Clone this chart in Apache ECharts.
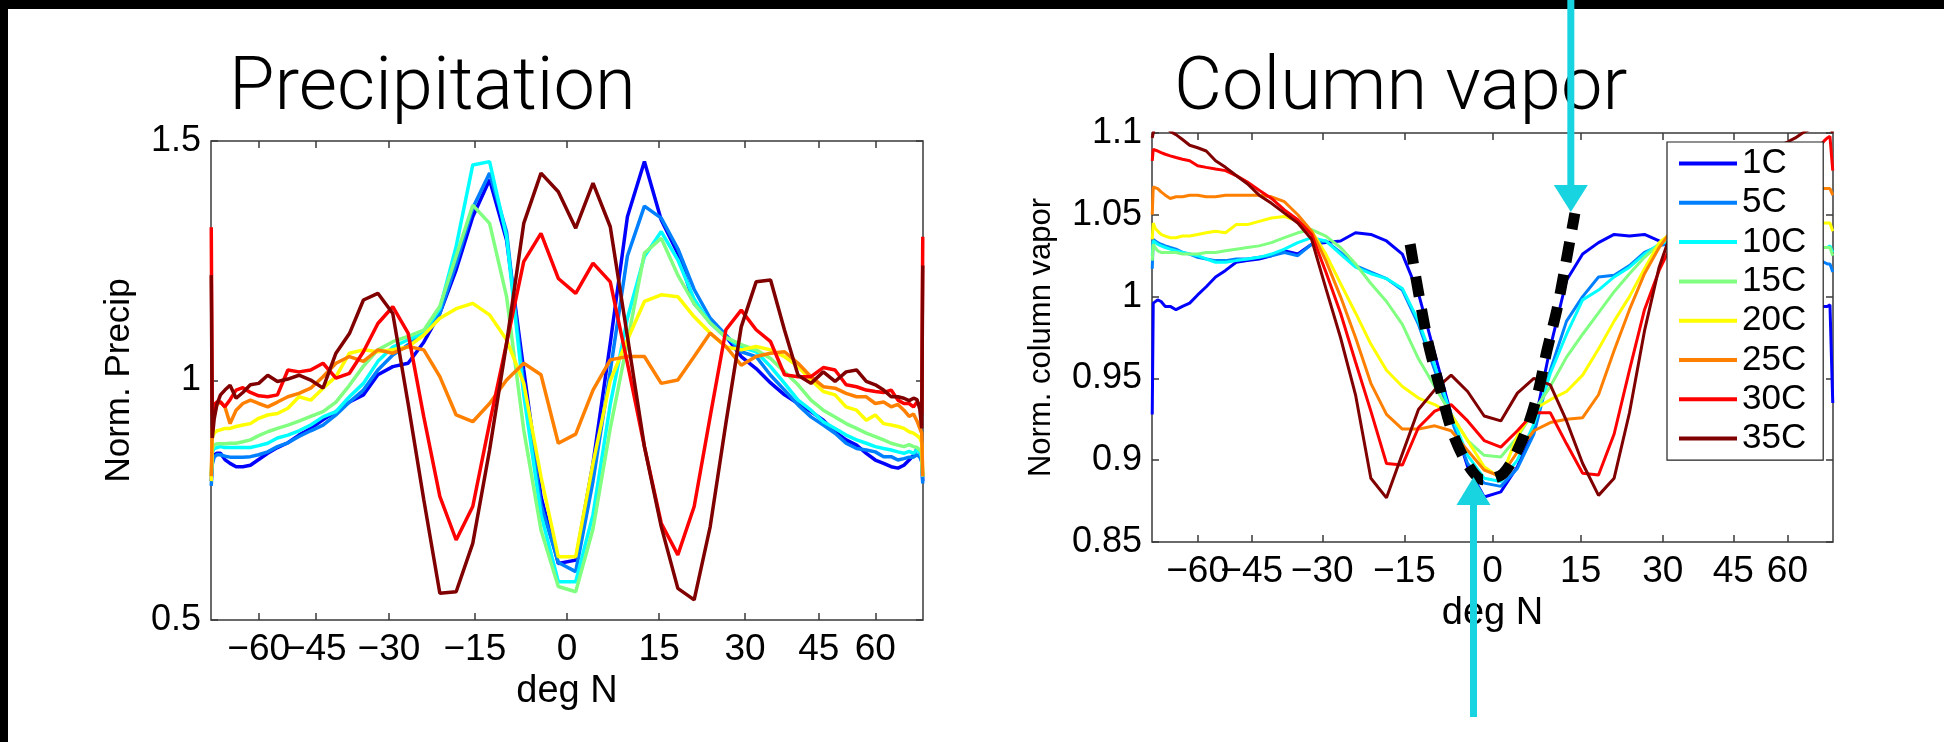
<!DOCTYPE html>
<html><head><meta charset="utf-8">
<script src="https://cdn.jsdelivr.net/npm/echarts@6/dist/echarts.min.js"></script>
<style>html,body{margin:0;padding:0;background:#fff;}#c{width:1944px;height:742px;}</style>
</head><body><div id="c"></div>
<script>
// ---- data ----
const seriesNames = ['1C','5C','10C','15C','20C','25C','30C','35C'];
const xTickDegrees = [-60,-45,-30,-15,0,15,30,45,60];
const latitudes = [-87.86,-85.10,-82.33,-79.53,-76.74,-73.95,-71.16,-68.37,-65.58,-62.79,-60.00,-57.21,-54.42,-51.63,-48.84,-46.05,-43.26,-40.47,-37.67,-34.88,-32.09,-29.30,-26.51,-23.72,-20.93,-18.14,-15.35,-12.56,-9.77,-6.98,-4.19,-1.40,
  1.40,4.19,6.98,9.77,12.56,15.35,18.14,20.93,23.72,26.51,29.30,32.09,34.88,37.67,40.47,43.26,46.05,48.84,51.63,54.42,57.21,60.00,62.79,65.58,68.37,71.16,73.95,76.74,79.53,82.33,85.10,87.86];

const precip1C = [0.79,0.83,0.845,0.848,0.848,0.835,0.827,0.82,0.82,0.823,0.835,0.848,0.86,0.87,0.886,0.9,0.918,0.935,0.955,0.97,1.012,1.029,1.036,1.08,1.14,1.231,1.342,1.419,1.293,1.022,0.758,0.618,
  0.625,0.827,1.078,1.342,1.457,1.335,1.265,1.161,1.123,1.092,1.05,1.025,0.995,0.97,0.952,0.935,0.917,0.893,0.876,0.865,0.848,0.834,0.827,0.82,0.817,0.823,0.834,0.844,0.858,0.85,0.84,0.79];
const precip5C = [0.78,0.825,0.84,0.845,0.845,0.842,0.84,0.84,0.84,0.841,0.845,0.851,0.862,0.87,0.883,0.895,0.907,0.928,0.955,0.98,1.022,1.053,1.075,1.1,1.14,1.245,1.36,1.433,1.31,0.99,0.74,0.62,
  0.601,0.79,1.02,1.26,1.364,1.339,1.275,1.19,1.13,1.095,1.06,1.05,1.011,0.98,0.949,0.924,0.907,0.89,0.869,0.858,0.855,0.851,0.841,0.841,0.834,0.837,0.84,0.84,0.845,0.84,0.83,0.785];
const precip10C = [0.8,0.85,0.858,0.86,0.862,0.86,0.86,0.86,0.86,0.86,0.864,0.869,0.88,0.886,0.895,0.907,0.924,0.935,0.966,0.994,1.04,1.07,1.085,1.1,1.15,1.28,1.45,1.457,1.3,0.97,0.72,0.58,
  0.58,0.72,0.95,1.13,1.259,1.311,1.252,1.17,1.12,1.09,1.07,1.06,1.029,0.994,0.959,0.938,0.914,0.9,0.886,0.876,0.869,0.862,0.858,0.855,0.851,0.848,0.852,0.848,0.855,0.85,0.84,0.8];
const precip15C = [0.8,0.855,0.865,0.868,0.868,0.868,0.869,0.869,0.872,0.876,0.885,0.893,0.9,0.907,0.915,0.925,0.935,0.955,0.99,1.03,1.064,1.081,1.092,1.105,1.155,1.26,1.366,1.328,1.175,0.897,0.688,0.57,
  0.559,0.69,0.9,1.08,1.266,1.297,1.22,1.16,1.12,1.09,1.075,1.064,1.046,1.018,0.991,0.959,0.938,0.924,0.91,0.9,0.89,0.883,0.876,0.869,0.865,0.862,0.866,0.862,0.86,0.855,0.85,0.8];
const precip20C = [0.79,0.88,0.89,0.895,0.897,0.9,0.9,0.904,0.907,0.91,0.921,0.928,0.931,0.942,0.966,0.959,0.984,1.008,1.057,1.064,1.06,1.064,1.07,1.095,1.13,1.15,1.161,1.137,1.085,0.994,0.799,0.632,
  0.632,0.827,1.0,1.085,1.165,1.179,1.175,1.133,1.099,1.07,1.064,1.071,1.064,1.05,1.029,1.001,0.977,0.97,0.945,0.938,0.917,0.928,0.91,0.907,0.904,0.9,0.893,0.89,0.885,0.88,0.87,0.8];
const precip25C = [0.8,0.9,0.93,0.95,0.955,0.945,0.91,0.938,0.952,0.959,0.952,0.945,0.955,0.966,0.973,0.984,1.008,1.036,1.05,1.04,1.064,1.057,1.071,1.064,1.008,0.928,0.914,0.952,1.001,1.036,1.012,0.869,
  0.888,0.98,1.043,1.05,1.05,0.994,1.001,1.05,1.099,1.071,1.032,1.05,1.057,1.06,1.036,1.008,0.987,0.984,0.973,0.966,0.966,0.952,0.955,0.945,0.95,0.938,0.925,0.93,0.915,0.9,0.89,0.8];
const precip30C = [1.32,0.93,0.95,0.955,0.955,0.945,0.96,0.98,0.985,0.975,0.968,0.966,0.97,1.022,1.018,1.022,1.036,1.005,1.015,1.06,1.119,1.154,1.099,0.924,0.758,0.667,0.737,0.911,1.078,1.248,1.307,1.213,
  1.182,1.245,1.206,1.036,0.862,0.702,0.636,0.737,0.925,1.106,1.147,1.106,1.081,1.012,1.008,1.008,1.027,1.022,0.991,0.987,0.98,0.977,0.975,0.98,0.959,0.952,0.952,0.945,0.955,0.95,0.93,1.3];
const precip35C = [1.22,0.88,0.92,0.95,0.97,0.98,0.99,0.963,0.975,0.991,0.994,1.011,0.998,1.003,1.011,1.001,0.984,1.057,1.098,1.168,1.182,1.14,0.952,0.751,0.556,0.559,0.66,0.855,1.078,1.328,1.433,1.394,
  1.318,1.412,1.321,1.092,0.862,0.695,0.566,0.542,0.695,0.911,1.112,1.206,1.21,1.105,1.011,0.994,1.018,0.998,1.018,1.022,0.998,0.991,0.98,0.966,0.966,0.963,0.958,0.963,0.96,0.94,0.9,1.24];

const vapor1C = [0.928,0.996,0.997,0.998,0.997,0.994,0.994,0.992,0.994,0.996,1.001,1.006,1.012,1.016,1.021,1.022,1.023,1.025,1.028,1.026,1.032,1.033,1.034,1.039,1.038,1.034,1.026,1.002,0.965,0.928,0.896,0.8775,
  0.8806,0.896,0.92,0.969,1.01,1.026,1.033,1.038,1.037,1.038,1.034,1.03,1.026,1.022,1.018,1.014,1.01,1.006,1.002,0.999,0.997,0.996,0.995,0.994,0.994,0.993,0.993,0.994,0.994,0.995,0.994,0.935];
const vapor5C = [1.017,1.035,1.034,1.033,1.032,1.031,1.03,1.029,1.027,1.026,1.024,1.023,1.022,1.022,1.023,1.023,1.024,1.025,1.027,1.025,1.032,1.034,1.027,1.019,1.015,1.011,1.004,0.983,0.955,0.925,0.898,0.886,
  0.884,0.895,0.916,0.955,0.985,1.0,1.012,1.013,1.019,1.027,1.031,1.033,1.033,1.032,1.031,1.03,1.029,1.028,1.027,1.026,1.025,1.024,1.024,1.023,1.023,1.022,1.022,1.021,1.02,1.02,1.02,1.015];
const vapor10C = [1.025,1.034,1.033,1.032,1.031,1.03,1.029,1.028,1.027,1.026,1.025,1.023,1.021,1.021,1.022,1.023,1.024,1.026,1.029,1.033,1.036,1.034,1.026,1.018,1.014,1.011,1.005,0.985,0.958,0.928,0.903,0.889,
  0.887,0.9,0.922,0.953,0.977,0.998,1.004,1.012,1.018,1.026,1.032,1.035,1.036,1.036,1.035,1.035,1.034,1.034,1.033,1.033,1.032,1.032,1.032,1.031,1.031,1.031,1.031,1.03,1.03,1.031,1.032,1.027];
const vapor15C = [1.022,1.032,1.03,1.028,1.027,1.027,1.027,1.027,1.026,1.026,1.026,1.027,1.027,1.028,1.029,1.03,1.031,1.033,1.036,1.039,1.041,1.037,1.03,1.02,1.008,0.997,0.983,0.962,0.945,0.928,0.912,0.903,
  0.902,0.914,0.93,0.945,0.963,0.977,0.99,1.003,1.014,1.024,1.032,1.037,1.039,1.038,1.037,1.036,1.035,1.034,1.033,1.033,1.032,1.032,1.031,1.031,1.031,1.03,1.03,1.03,1.03,1.03,1.03,1.025];
const vapor20C = [1.035,1.045,1.042,1.04,1.038,1.037,1.036,1.036,1.037,1.037,1.038,1.039,1.04,1.039,1.044,1.044,1.046,1.048,1.049,1.046,1.04,1.026,1.008,0.99,0.971,0.955,0.945,0.938,0.934,0.928,0.912,0.896,
  0.889,0.915,0.931,0.937,0.942,0.952,0.968,0.985,1.0,1.017,1.033,1.04,1.044,1.046,1.047,1.047,1.047,1.046,1.046,1.045,1.045,1.045,1.045,1.045,1.045,1.045,1.045,1.045,1.045,1.045,1.045,1.04];
const vapor25C = [1.05,1.067,1.068,1.066,1.064,1.062,1.06,1.061,1.061,1.062,1.062,1.061,1.061,1.062,1.062,1.062,1.062,1.061,1.058,1.05,1.04,1.022,1.0,0.975,0.947,0.928,0.919,0.919,0.921,0.918,0.906,0.894,
  0.89,0.905,0.918,0.923,0.925,0.926,0.94,0.967,0.992,1.014,1.03,1.042,1.05,1.055,1.058,1.06,1.061,1.062,1.062,1.062,1.063,1.063,1.064,1.064,1.065,1.065,1.066,1.066,1.066,1.066,1.066,1.062];
const vapor30C = [1.083,1.09,1.09,1.089,1.088,1.087,1.086,1.085,1.084,1.083,1.08,1.079,1.078,1.077,1.074,1.07,1.065,1.06,1.053,1.047,1.038,1.015,0.99,0.96,0.93,0.898,0.897,0.92,0.93,0.934,0.924,0.912,
  0.908,0.918,0.929,0.929,0.91,0.892,0.891,0.916,0.955,0.992,1.016,1.034,1.045,1.052,1.058,1.063,1.067,1.07,1.073,1.075,1.078,1.08,1.083,1.085,1.087,1.089,1.092,1.095,1.097,1.098,1.098,1.077];
const vapor35C = [1.097,1.1,1.105,1.108,1.108,1.105,1.101,1.099,1.096,1.0925,1.091,1.089,1.083,1.079,1.074,1.069,1.062,1.057,1.051,1.045,1.035,1.005,0.975,0.94,0.889,0.877,0.904,0.931,0.943,0.952,0.942,0.927,
  0.924,0.941,0.95,0.946,0.924,0.898,0.8785,0.889,0.929,0.979,1.018,1.043,1.05,1.058,1.065,1.072,1.078,1.083,1.087,1.09,1.092,1.0945,1.097,1.1,1.102,1.104,1.105,1.105,1.105,1.104,1.103,1.1];

const guideLat = [-14.0,-11.1,-8.8,-6.85,-4.3,-1.6,1.85,5.2,7.5,9.2,10.9,12.3,14.0];
const guideVal = [1.032,0.975,0.943,0.918,0.898,0.888,0.892,0.914,0.939,0.967,0.992,1.018,1.051];

const arrowTop = {lat: 13.3, value: 1.0517};
const arrowBottom = {lat: -3.2, value: 0.8897};

// ---- chart ----
const FONT = '"Liberation Sans", Arial, Helvetica, sans-serif';
const AX = '#3a3a3a';
const COLORS = ['#0000ff','#0080ff','#00ffff','#80ff80','#ffff00','#ff8000','#ff0000','#800000'];
const CYAN = '#17d4e0';
const toX = d => Math.sin(d * Math.PI / 180);
const tickPos = xTickDegrees.map(toX);
// labels split over two bottom axes so that the touching "−60" / "−45" labels are both kept
const labelSetA = xTickDegrees.filter(d => d !== -45).map(toX);
const labelSetB = xTickDegrees.filter(d => d === -45).map(toX);
const fmtDeg = v => { const d = Math.round(Math.asin(Math.max(-1, Math.min(1, v))) * 180 / Math.PI); return d < 0 ? '\u2212' + (-d) : String(d); };
const fmtNum = v => String(+(+v).toFixed(2));
const pairs = vals => latitudes.map((lat, i) => [toX(lat), vals[i]]);
const labelStyle = { fontSize: 37, fontFamily: FONT, color: '#000', margin: 11 };

function xAxisMain(g, gap) {
  return { type: 'value', gridIndex: g, min: -1, max: 1, position: 'bottom',
    axisLine: { show: false, onZero: false }, splitLine: { show: false },
    axisTick: { show: true, inside: true, length: 7, customValues: tickPos, lineStyle: { color: AX, width: 1.5 } },
    axisLabel: Object.assign({ show: true, customValues: labelSetA, hideOverlap: false, formatter: fmtDeg }, labelStyle),
    name: 'deg N', nameLocation: 'middle', nameGap: gap, nameTextStyle: { fontSize: 38, fontFamily: FONT, color: '#000' } };
}
function xAxisExtra(g) {
  return { type: 'value', gridIndex: g, min: -1, max: 1, position: 'bottom', offset: 0,
    axisLine: { show: false, onZero: false }, splitLine: { show: false }, axisTick: { show: false },
    axisLabel: Object.assign({ show: true, customValues: labelSetB, hideOverlap: false, formatter: fmtDeg }, labelStyle) };
}
function xAxisMirror(g) {
  return { type: 'value', gridIndex: g, min: -1, max: 1, position: 'top',
    axisLine: { show: false, onZero: false }, splitLine: { show: false }, axisLabel: { show: false },
    axisTick: { show: true, inside: true, length: 7, customValues: tickPos, lineStyle: { color: AX, width: 1.5 } } };
}
function yAxisMain(g, min, max, step, name, nameSize, gap) {
  return { type: 'value', gridIndex: g, min: min, max: max, interval: step, position: 'left',
    axisLine: { show: false, onZero: false }, splitLine: { show: false },
    axisTick: { show: true, inside: true, length: 7, lineStyle: { color: AX, width: 1.5 } },
    axisLabel: { formatter: fmtNum, fontSize: 36, fontFamily: FONT, color: '#000', margin: 10, hideOverlap: false },
    name: name, nameLocation: 'middle', nameGap: gap, nameTextStyle: { fontSize: nameSize, fontFamily: FONT, color: '#000' } };
}
function yAxisMirror(g, min, max, step) {
  return { type: 'value', gridIndex: g, min: min, max: max, interval: step, position: 'right',
    axisLine: { show: false, onZero: false }, splitLine: { show: false }, axisLabel: { show: false },
    axisTick: { show: true, inside: true, length: 7, lineStyle: { color: AX, width: 1.5 } } };
}

const precipSets = [precip1C, precip5C, precip10C, precip15C, precip20C, precip25C, precip30C, precip35C];
const vaporSets = [vapor1C, vapor5C, vapor10C, vapor15C, vapor20C, vapor25C, vapor30C, vapor35C];
const series = [];
precipSets.forEach((vals, k) => series.push({ name: seriesNames[k], type: 'line', xAxisIndex: 0, yAxisIndex: 0,
  data: pairs(vals), symbol: 'none', lineStyle: { width: 3.5, color: COLORS[k] }, itemStyle: { color: COLORS[k] } }));
vaporSets.forEach((vals, k) => series.push({ name: seriesNames[k], type: 'line', xAxisIndex: 2, yAxisIndex: 2,
  data: pairs(vals), symbol: 'none', lineStyle: { width: 3, color: COLORS[k] }, itemStyle: { color: COLORS[k] } }));
series.push({ name: 'guide', type: 'line', xAxisIndex: 2, yAxisIndex: 2, z: 5, smooth: 0.3,
  data: guideLat.map((l, i) => [toX(l), guideVal[i]]), symbol: 'none',
  lineStyle: { width: 11, color: '#000', type: [20, 13], cap: 'butt' } });

const chart = echarts.init(document.getElementById('c'));
const titleStyle = { fontSize: 74, fontWeight: 300, fontFamily: 'Roboto, "Open Sans", Lato, sans-serif', color: '#000' };
chart.setOption({
  animation: false,
  backgroundColor: '#fff',
  title: [
    { text: 'Precipitation', left: 229, top: 53, padding: 0, textStyle: titleStyle },
    { text: 'Column vapor', left: 1174, top: 53, padding: 0, textStyle: titleStyle }
  ],
  grid: [
    { left: 211, top: 141, width: 712, height: 479, show: true, borderColor: AX, borderWidth: 1.5, backgroundColor: 'transparent' },
    { left: 1152, top: 133, width: 681, height: 409, show: true, borderColor: AX, borderWidth: 1.5, backgroundColor: 'transparent' }
  ],
  xAxis: [xAxisMain(0, 44), xAxisMirror(0), xAxisMain(1, 44), xAxisMirror(1), xAxisExtra(0), xAxisExtra(1)],
  yAxis: [yAxisMain(0, 0.5, 1.5, 0.5, 'Norm. Precip', 35, 74), yAxisMirror(0, 0.5, 1.5, 0.5),
          yAxisMain(1, 0.85, 1.1, 0.05, 'Norm. column vapor', 31, 95), yAxisMirror(1, 0.85, 1.1, 0.05)],
  legend: { data: seriesNames, orient: 'vertical', left: 1667, top: 142, backgroundColor: '#fff',
    borderColor: '#222', borderWidth: 1.2, borderRadius: 0, padding: [4, 17, 4, 12],
    icon: 'rect', itemWidth: 58, itemHeight: 4, itemGap: 4.3,
    textStyle: { fontSize: 35, lineHeight: 35, fontFamily: FONT, color: '#000' } },
  series: series
});

const pTop = chart.convertToPixel({ xAxisIndex: 2, yAxisIndex: 2 }, [toX(arrowTop.lat), arrowTop.value]);
const pBot = chart.convertToPixel({ xAxisIndex: 2, yAxisIndex: 2 }, [toX(arrowBottom.lat), arrowBottom.value]);
chart.setOption({
  graphic: [
    { type: 'rect', z: 100, shape: { x: 0, y: 0, width: 1944, height: 9 }, style: { fill: '#000' } },
    { type: 'rect', z: 100, shape: { x: 0, y: 0, width: 8, height: 742 }, style: { fill: '#000' } },
    { type: 'rect', z: 101, shape: { x: pTop[0] - 3.5, y: 0, width: 7, height: pTop[1] - 26 }, style: { fill: CYAN } },
    { type: 'polygon', z: 101, shape: { points: [[pTop[0] - 17, pTop[1] - 27], [pTop[0] + 17, pTop[1] - 27], [pTop[0], pTop[1]]] }, style: { fill: CYAN } },
    { type: 'rect', z: 101, shape: { x: pBot[0] - 3.5, y: pBot[1] + 27, width: 7, height: 717 - pBot[1] - 27 }, style: { fill: CYAN } },
    { type: 'polygon', z: 101, shape: { points: [[pBot[0] - 17, pBot[1] + 28], [pBot[0] + 17, pBot[1] + 28], [pBot[0], pBot[1]]] }, style: { fill: CYAN } }
  ]
});
</script></body></html>
